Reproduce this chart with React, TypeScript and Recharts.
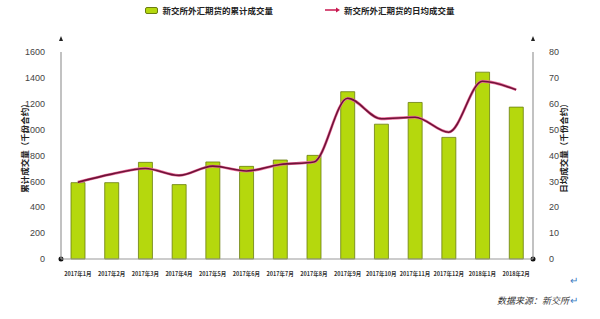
import { ComposedChart, Bar, Line, XAxis, YAxis, Legend, Customized } from 'recharts'

const MONTHS = [
  '2017年1月', '2017年2月', '2017年3月', '2017年4月', '2017年5月', '2017年6月', '2017年7月',
  '2017年8月', '2017年9月', '2017年10月', '2017年11月', '2017年12月', '2018年1月', '2018年2月',
]
const TOTAL_VOLUME = [590, 590, 747, 575, 750, 716, 765, 801, 1293, 1042, 1210, 940, 1444, 1174]
const DAILY_AVG = [29.7, 32.8, 35, 32.3, 35.9, 34, 36.5, 37.5, 62.1, 54.2, 54.8, 49, 68.7, 65.4]
const LEFT_TICKS = [0, 200, 400, 600, 800, 1000, 1200, 1400, 1600]
const RIGHT_TICKS = [0, 10, 20, 30, 40, 50, 60, 70, 80]

const BAR_NAME = '新交所外汇期货的累计成交量'
const LINE_NAME = '新交所外汇期货的日均成交量'

const W = 600
const H = 319
const PLOT_LEFT = 61
const PLOT_RIGHT = 533
const PLOT_TOP = 40
const PLOT_BOTTOM = 259

const CJK = '"Noto Sans CJK SC", "Noto Sans", sans-serif'

function AxisDecor() {
  return (
    <g>
      <path d={`M${PLOT_LEFT - 2},${PLOT_TOP + 1} L${PLOT_LEFT},${PLOT_TOP - 4} L${PLOT_LEFT + 2},${PLOT_TOP + 1} Z`} fill="#222" />
      <path d={`M${PLOT_RIGHT - 2},${PLOT_TOP + 1} L${PLOT_RIGHT},${PLOT_TOP - 4} L${PLOT_RIGHT + 2},${PLOT_TOP + 1} Z`} fill="#222" />
      <circle cx={PLOT_LEFT} cy={PLOT_BOTTOM} r={2.5} fill="#111" />
      <circle cx={PLOT_RIGHT} cy={PLOT_BOTTOM} r={2.5} fill="#111" />
      <text x={24} y={146} transform="rotate(-90 24 146)" textAnchor="middle" dominantBaseline="central"
        fontSize={8.5} fontWeight="bold" fill="#222" fontFamily={CJK}>累计成交量（千份合约）</text>
      <text x={563} y={146} transform="rotate(-90 563 146)" textAnchor="middle" dominantBaseline="central"
        fontSize={8.5} fontWeight="bold" fill="#222" fontFamily={CJK}>日均成交量（千份合约）</text>
      <text x={570} y={284} fontSize={10} fill="#3a7bbf" fontFamily={CJK}>↵</text>
      <text x={497} y={304} fontSize={9} fontStyle="italic" fill="#333" fontFamily={CJK}>数据来源：新交所</text>
      <text x={570} y={304} fontSize={10} fill="#3a7bbf" fontFamily={CJK}>↵</text>
    </g>
  )
}

function LegendContent() {
  return (
    <div style={{ display: 'flex', justifyContent: 'center', alignItems: 'center', fontFamily: CJK, fontSize: 8.5, fontWeight: 'bold', color: '#222' }}>
      <div style={{ display: 'flex', alignItems: 'center', marginRight: 52 }}>
        <span style={{ display: 'inline-block', width: 11, height: 5, background: '#b5d80d', border: '1px solid #6a7d10', borderRadius: 2, marginRight: 4 }} />
        {BAR_NAME}
      </div>
      <div style={{ display: 'flex', alignItems: 'center' }}>
        <svg width={16} height={8} style={{ marginRight: 3 }}>
          <line x1={0} y1={4} x2={12} y2={4} stroke="#c8174f" strokeWidth={1.5} />
          <path d="M11,1.5 L15,4 L11,6.5 Z" fill="#c8174f" />
        </svg>
        {LINE_NAME}
      </div>
    </div>
  )
}

export default function App() {
  const data = MONTHS.map((month, i) => ({
    month,
    total: TOTAL_VOLUME[i],
    daily: DAILY_AVG[i],
  }))

  return (
    <div style={{ position: 'absolute', left: 0, top: 0, width: W, height: H, background: '#fff' }}>
      <ComposedChart width={W} height={H} data={data}
        margin={{ top: PLOT_TOP, right: 0, left: 0, bottom: 0 }} barCategoryGap="30%">
        <Legend verticalAlign="top" content={<LegendContent />}
          wrapperStyle={{ top: 4, left: 50, width: 500 }} />
        <XAxis dataKey="month" interval={0} tickLine={false} height={H - PLOT_BOTTOM}
          axisLine={{ stroke: '#999', strokeWidth: 1.2 }} tickMargin={7}
          tick={{ fontSize: 5.5, fontWeight: 'bold', fill: '#333', fontFamily: CJK }} />
        <YAxis yAxisId="left" width={PLOT_LEFT} domain={[0, 1600]} ticks={LEFT_TICKS}
          axisLine={{ stroke: '#999', strokeWidth: 1.2 }} tickLine={false} tickMargin={10}
          tick={{ fontSize: 9, fill: '#444', fontFamily: 'Liberation Sans, sans-serif' }} />
        <YAxis yAxisId="right" orientation="right" width={W - PLOT_RIGHT} domain={[0, 80]} ticks={RIGHT_TICKS}
          axisLine={{ stroke: '#999', strokeWidth: 1.2 }} tickLine={false} tickMargin={10}
          tick={{ fontSize: 9, fill: '#444', fontFamily: 'Liberation Sans, sans-serif', textAnchor: 'start' }} />
        <Bar yAxisId="left" dataKey="total" name={BAR_NAME} fill="#b5d80d" stroke="#6a7d10"
          strokeWidth={0.8} barSize={14} isAnimationActive={false} />
        <Line yAxisId="right" dataKey="daily" type="monotone" stroke="#ec6d9c" strokeWidth={2.8}
          dot={false} legendType="none" isAnimationActive={false} />
        <Line yAxisId="right" dataKey="daily" name={LINE_NAME} type="monotone" stroke="#6e1438"
          strokeWidth={1.6} dot={false} isAnimationActive={false} />
        <Customized component={AxisDecor} />
      </ComposedChart>
    </div>
  )
}
